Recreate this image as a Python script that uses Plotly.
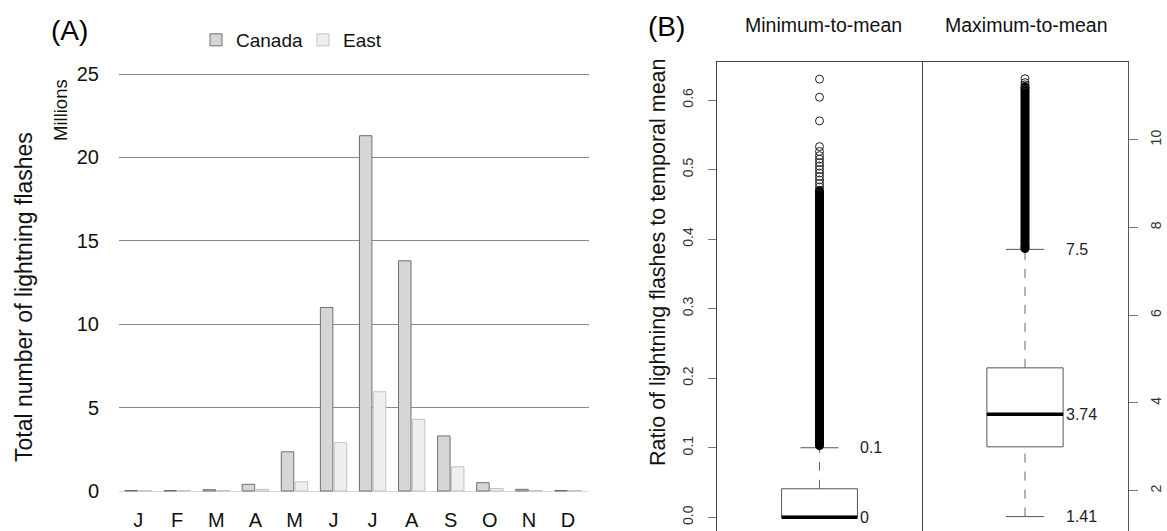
import plotly.graph_objects as go

W, H = 1167, 531

# ---------------- data ----------------
months = ["J", "F", "M", "A", "M", "J", "J", "A", "S", "O", "N", "D"]
canada = [0.03, 0.03, 0.08, 0.40, 2.35, 11.0, 21.3, 13.8, 3.3, 0.50, 0.10, 0.03]
east = [0.02, 0.02, 0.03, 0.10, 0.55, 2.9, 5.95, 4.3, 1.45, 0.15, 0.03, 0.03]

# box statistics: [lower fence, q1, median, q3, upper fence]
min_stats = [0.0, 0.0, 0.0, 0.041, 0.1]
max_stats = [1.41, 3.0, 3.74, 4.8, 7.5]
# dense outlier band (value range) and sparse individual outliers
min_dense_band = [0.103, 0.47]
min_outliers = [0.63, 0.604, 0.57, 0.533, 0.526, 0.52, 0.515, 0.51, 0.505, 0.50,
                0.495, 0.49, 0.485, 0.48, 0.475]
max_dense_band = [7.52, 11.2]
max_outliers = [11.39, 11.3, 11.25]
min_ticks = [0.0, 0.1, 0.2, 0.3, 0.4, 0.5, 0.6]
max_ticks = [2, 4, 6, 8, 10]

FONT = "Liberation Sans, Arial, sans-serif"


def px_x(p):
    return p / W


def px_y(p):
    return 1 - p / H


fig = go.Figure()

# ---------------- panel A ----------------
fig.add_trace(go.Bar(
    x=list(range(len(months))), y=canada, name="Canada", legend="legend",
    marker=dict(color="#d6d6d6", line=dict(color="#6f6f6f", width=1)),
    xaxis="x", yaxis="y"))
fig.add_trace(go.Bar(
    x=list(range(len(months))), y=east, name="East", legend="legend2",
    marker=dict(color="#efefef", line=dict(color="#c2c2c2", width=1)),
    xaxis="x", yaxis="y"))

# ---------------- panel B ----------------
BOXW = 0.74
CAP = 0.5 * BOXW


def add_box(stats, dense, outl, xa, ya):
    lf, q1, med, q3, uf = stats
    fig.add_trace(go.Box(
        x=[0], q1=[q1], median=[med], q3=[q3], lowerfence=[q1], upperfence=[q3],
        width=BOXW, fillcolor="white", line=dict(color="#555555", width=1),
        whiskerwidth=0, boxpoints=False, showlegend=False, hoverinfo="skip",
        xaxis=xa, yaxis=ya))
    # dashed whiskers
    for a, b in ((q3, uf), (lf, q1)):
        if b > a:
            fig.add_trace(go.Scatter(x=[0, 0], y=[a, b], mode="lines",
                                     line=dict(color="#666666", width=1, dash="dash"),
                                     showlegend=False, hoverinfo="skip",
                                     xaxis=xa, yaxis=ya))
    # caps
    for v in (lf, uf):
        fig.add_trace(go.Scatter(x=[-CAP / 2, CAP / 2], y=[v, v], mode="lines",
                                 line=dict(color="#555555", width=1),
                                 showlegend=False, hoverinfo="skip",
                                 xaxis=xa, yaxis=ya))
    # median
    fig.add_trace(go.Scatter(x=[-BOXW / 2, BOXW / 2], y=[med, med], mode="lines",
                             line=dict(color="black", width=3.5),
                             showlegend=False, hoverinfo="skip",
                             xaxis=xa, yaxis=ya))
    # dense outlier band
    fig.add_trace(go.Scatter(x=[0, 0], y=dense, mode="lines+markers",
                             line=dict(color="black", width=9),
                             marker=dict(symbol="circle", size=9, color="black"),
                             showlegend=False, hoverinfo="skip",
                             xaxis=xa, yaxis=ya))
    fig.add_trace(go.Scatter(x=[0] * len(outl), y=outl, mode="markers",
                             marker=dict(symbol="circle-open", size=8,
                                         color="#222222", line=dict(width=1)),
                             showlegend=False, hoverinfo="skip",
                             xaxis=xa, yaxis=ya))


add_box(min_stats, min_dense_band, min_outliers, "x2", "y2")
add_box(max_stats, max_dense_band, max_outliers, "x3", "y3")

# value labels
ann = []
lab_font = dict(family=FONT, size=16, color="#222222")
for txt, val, xa, ya in [
    ("0.1", min_stats[4], "x2", "y2"), ("0", min_stats[2], "x2", "y2"),
    ("7.5", max_stats[4], "x3", "y3"), ("3.74", max_stats[2], "x3", "y3"),
    ("1.41", max_stats[0], "x3", "y3")]:
    ann.append(dict(x=0.38, y=val, xref=xa, yref=ya, text=txt, showarrow=False,
                    xanchor="left", yanchor="middle", font=lab_font))


def pa(xp, yp, text, size, angle=0, color="#111111"):
    return dict(x=px_x(xp), y=px_y(yp), xref="paper", yref="paper", text=text,
                showarrow=False, xanchor="center", yanchor="middle", textangle=angle,
                font=dict(family=FONT, size=size, color=color))


ann += [
    pa(69, 30, "(A)", 28, color="black"),
    pa(666, 27, "(B)", 28, color="black"),
    pa(824, 25, "Minimum-to-mean", 19.5),
    pa(1026, 25, "Maximum-to-mean", 19.5),
    pa(24, 297, "Total number of lightning flashes", 23, -90),
    pa(61, 110, "Millions", 18.5, -90),
    pa(658, 262, "Ratio of lightning flashes to temporal mean", 21.5, -90),
]

# panel A axes: 0 at y=491, 25 at y=74; J at x=138, D at x=568
ppu = (491 - 74) / 25.0
yA_lo, yA_hi = -0.1, 25.1
fig.update_layout(
    xaxis=dict(domain=[px_x(119), px_x(589)], range=[-0.49, 11.537],
               tickvals=list(range(len(months))), ticktext=months,
               showgrid=False, zeroline=False, showline=False, ticks="",
               ticklabelstandoff=13, automargin=False,
               tickfont=dict(family=FONT, size=20, color="#111111")),
    yaxis=dict(domain=[px_y(491 - yA_lo * ppu), px_y(491 - yA_hi * ppu)],
               range=[yA_lo, yA_hi], tickvals=[0, 5, 10, 15, 20, 25],
               showgrid=True, gridcolor="#8a8a8a", gridwidth=1,
               zeroline=True, zerolinecolor="#d8d8d8", zerolinewidth=1,
               showline=False, ticks="", ticklabelstandoff=19, automargin=False,
               tickfont=dict(family=FONT, size=20, color="#111111")),
    bargap=0.29, bargroupgap=0.1, barmode="group",
)

# panel B axes
top_px = 62.3
ppu_min = (517.3 - 100.0) / 0.6
y2_lo = 0 - (H - 517.3) / ppu_min
y2_hi = 0.6 + (100.0 - top_px) / ppu_min
ppu_max = (490.7 - 139.7) / 8.0
y3_lo = 2 - (H - 490.7) / ppu_max
y3_hi = 10 + (139.7 - top_px) / ppu_max

tick_font_b = dict(family=FONT, size=14, color="#333333")
fig.update_layout(
    xaxis2=dict(domain=[px_x(717), px_x(922)], range=[-1, 1], anchor="y2", side="top",
                showline=True, linecolor="#444444", linewidth=1, mirror=False,
                showticklabels=False, ticks="", showgrid=False, zeroline=False,
                automargin=False),
    yaxis2=dict(domain=[0, px_y(top_px)], range=[y2_lo, y2_hi], anchor="x2",
                showline=True, linecolor="#444444", linewidth=1, mirror=True,
                tickvals=min_ticks, ticktext=[f"{v:.1f}" for v in min_ticks],
                ticks="outside", ticklen=8, tickcolor="#777777",
                tickangle=-90, tickfont=tick_font_b, ticklabelstandoff=9,
                showgrid=False, zeroline=False, automargin=False),
    xaxis3=dict(domain=[px_x(922), px_x(1128)], range=[-1, 1], anchor="y3", side="top",
                showline=True, linecolor="#444444", linewidth=1, mirror=False,
                showticklabels=False, ticks="", showgrid=False, zeroline=False,
                automargin=False),
    yaxis3=dict(domain=[0, px_y(top_px)], range=[y3_lo, y3_hi], anchor="x3", side="right",
                showline=True, linecolor="#555555", linewidth=1,
                tickvals=max_ticks, ticks="outside", ticklen=9, tickcolor="#777777",
                tickangle=-90, tickfont=tick_font_b, ticklabelstandoff=6,
                showgrid=False, zeroline=False, automargin=False),
)

leg_font = dict(family=FONT, size=19, color="#111111")
fig.update_layout(
    width=W, height=H, margin=dict(l=0, r=0, t=0, b=0, pad=0, autoexpand=False),
    paper_bgcolor="white", plot_bgcolor="white",
    font=dict(family=FONT, color="#111111"),
    annotations=ann,
    legend=dict(orientation="h", x=px_x(196), y=px_y(40), xanchor="left",
                yanchor="middle", font=leg_font, bgcolor="rgba(0,0,0,0)",
                itemwidth=30),
    legend2=dict(orientation="h", x=px_x(303), y=px_y(40), xanchor="left",
                 yanchor="middle", font=leg_font, bgcolor="rgba(0,0,0,0)",
                 itemwidth=30),
    showlegend=True,
)

fig.write_html("out.html", config={"displayModeBar": False},
               post_script="document.body.style.margin='0px';")
